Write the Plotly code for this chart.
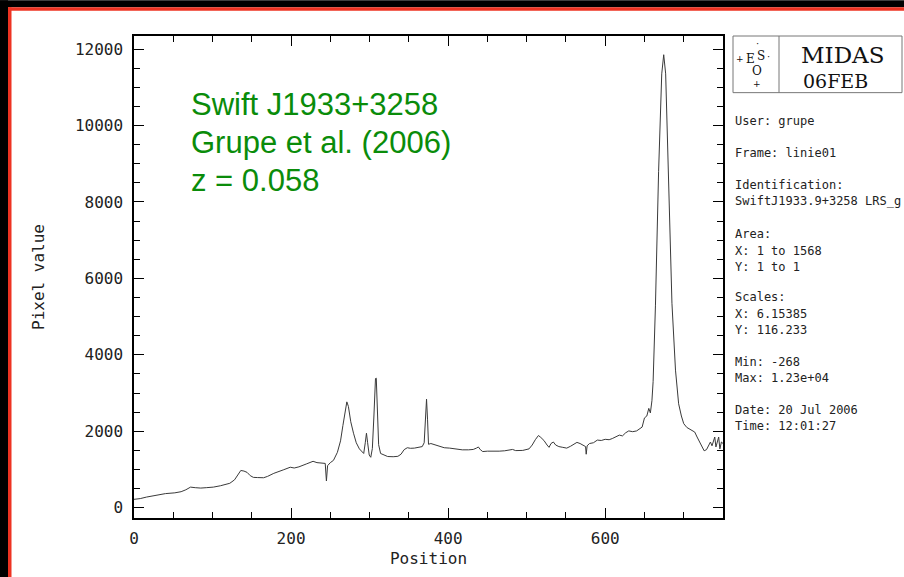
import plotly.graph_objects as go

# ---- data ----
position = [0, 8, 16, 28, 40, 52, 60, 66, 72, 78, 85, 92, 101, 110, 122, 128, 132, 136, 140, 144, 148, 152,
            157, 165, 170, 178, 190, 199, 204, 210, 220, 228, 233, 240, 243.5, 245, 246.5, 250, 254,
            259, 263, 266, 268.5, 271, 273, 276, 279.5, 283, 287, 291, 292.5, 294.5, 296, 297.5, 299.5, 301.5,
            303.5, 305.5, 307.5, 308.5, 310, 311.5, 314, 318, 323, 330, 336, 340, 344, 348, 352, 357, 362, 367,
            369.5, 371, 372.5, 373.8, 375, 378, 382, 388, 395, 402, 410, 418, 426, 432, 436, 438.5, 441, 444,
            450, 458, 465, 472, 478, 482, 486, 495, 503, 507, 511, 515, 518, 522, 526, 528.5, 531, 534, 537,
            541, 546, 551, 556, 560, 564, 568, 573, 575, 575.8, 577, 580, 585, 590, 595, 600, 605, 609, 614,
            618, 622, 626, 630, 635, 640, 644, 647, 650, 653, 655.5, 657.5, 659.5, 661, 664, 668, 672, 674.5,
            677, 681, 685, 689.5, 693.5, 697, 700, 704, 707, 711, 714, 717, 720, 723, 726, 729, 732, 734, 736,
            738, 739.5, 741, 743, 744.5, 746, 748, 750]
pixel_value = [220, 240, 280, 330, 370, 390, 420, 470, 540, 525, 515, 525, 540, 575, 640, 730, 850, 975, 960, 925, 840, 795,
               790, 785, 820, 900, 990, 1060, 1040, 1070, 1150, 1215, 1180, 1170, 1160, 700, 1100, 1180, 1240,
               1450, 1750, 2150, 2500, 2770, 2650, 2250, 1950, 1700, 1540, 1440, 1420, 1700, 1950, 1700, 1380, 1320,
               1550, 2400, 3380, 3390, 2400, 1650, 1420, 1380, 1340, 1335, 1345, 1400, 1520, 1570, 1555, 1560, 1580, 1600,
               1700, 2300, 2840, 2300, 1660, 1680, 1650, 1620, 1570, 1560, 1530, 1515, 1515, 1525, 1560, 1590, 1520, 1470,
               1480, 1475, 1480, 1490, 1515, 1525, 1495, 1500, 1540, 1640, 1780, 1890, 1840, 1760, 1640, 1580, 1680, 1720, 1640,
               1600, 1580, 1560, 1610, 1660, 1710, 1680, 1630, 1600, 1400, 1620, 1680, 1700, 1770, 1760, 1790, 1780, 1810, 1860,
               1900, 1880, 1960, 2010, 1990, 2010, 2080, 2110, 2350, 2400, 2600, 2480, 2800, 3300, 5300, 8800, 11350, 11850,
               11350, 7950, 5350, 3600, 2720, 2400, 2200, 2100, 2060, 2000, 1980, 1850, 1740, 1600, 1490, 1520, 1620, 1720, 1620,
               1780, 1850, 1590, 1780, 1850, 1540, 1720, 1680]

x_range = [0, 750]
y_range = [-268, 12340]

title_lines = ["Swift J1933+3258", "Grupe et al. (2006)", "z = 0.058"]
info_lines = [
    ("User: grupe", 122), ("Frame: linie01", 154), ("Identification:", 186),
    ("SwiftJ1933.9+3258 LRS_g", 202), ("Area:", 235), ("X: 1 to 1568", 252),
    ("Y: 1 to 1", 268), ("Scales:", 299), ("X: 6.15385", 316), ("Y: 116.233", 332),
    ("Min: -268", 364), ("Max: 1.23e+04", 380), ("Date: 20 Jul 2006", 412),
    ("Time: 12:01:27", 428),
]

# ---- layout geometry ----
W, H = 904, 577
L, R, T, B = 134, 723, 36, 521
PW, PH = R - L, B - T


def fx(px):
    return (px - L) / PW


def fy(py):
    return 1 - (py - T) / PH


fig = go.Figure()
fig.add_trace(go.Scatter(x=position, y=pixel_value, mode="lines",
                         line=dict(color="#3a3a3a", width=1), showlegend=False, hoverinfo="skip"))

mono = "DejaVu Sans Mono"
axis_common = dict(
    showgrid=False, zeroline=False, showline=True, linecolor="black", linewidth=1.5,
    mirror="allticks", ticks="inside", ticklen=10, tickwidth=1.2, tickcolor="black",
    tickfont=dict(family=mono, size=16, color="#222"), tickformat="d",
)
fig.update_xaxes(range=x_range, dtick=200, tick0=0,
                 minor=dict(dtick=50, tick0=0, ticks="inside", ticklen=6, tickcolor="black", tickwidth=1.2),
                 title=dict(text="Position", font=dict(family=mono, size=16, color="#222"), standoff=6),
                 ticklabelstandoff=5, **axis_common)
fig.update_yaxes(range=y_range, dtick=2000, tick0=0,
                 minor=dict(dtick=500, tick0=0, ticks="inside", ticklen=6, tickcolor="black", tickwidth=1.2),
                 title=dict(text="Pixel value", font=dict(family=mono, size=16, color="#222"), standoff=26),
                 ticklabelstandoff=6, **axis_common)

shapes = []
# white panel, black outer background and red frame
shapes.append(dict(type="rect", xref="paper", yref="paper", x0=fx(0), x1=fx(W + 20), y0=fy(0), y1=fy(H + 20),
                   fillcolor="white", line_width=0, layer="below"))
shapes.append(dict(type="rect", xref="paper", yref="paper", x0=fx(0), x1=fx(W + 20), y0=fy(0), y1=fy(7),
                   fillcolor="black", line_width=0, layer="below"))
shapes.append(dict(type="rect", xref="paper", yref="paper", x0=fx(0), x1=fx(8), y0=fy(0), y1=fy(H + 20),
                   fillcolor="black", line_width=0, layer="below"))
shapes.append(dict(type="rect", xref="paper", yref="paper", x0=fx(8), x1=fx(W + 20), y0=fy(7), y1=fy(10.5),
                   fillcolor="#ee3322", line_width=0, layer="below"))
shapes.append(dict(type="rect", xref="paper", yref="paper", x0=fx(8), x1=fx(11.5), y0=fy(7), y1=fy(H + 20),
                   fillcolor="#ee3322", line_width=0, layer="below"))
# MIDAS box
shapes.append(dict(type="rect", xref="paper", yref="paper", x0=fx(733), x1=fx(902), y0=fy(93), y1=fy(36),
                   line=dict(color="#777", width=1)))
shapes.append(dict(type="line", xref="paper", yref="paper", x0=fx(779), x1=fx(779), y0=fy(93), y1=fy(36),
                   line=dict(color="#777", width=1)))

ann = []
for i, line in enumerate(title_lines):
    ann.append(dict(xref="paper", yref="paper", x=fx(189), y=fy(105 + 38 * i), xanchor="left", yanchor="middle",
                    text=line, showarrow=False, align="left",
                    font=dict(family="Liberation Sans", size=31, color="#0a8c0a")))
ann.append(dict(xref="paper", yref="paper", x=fx(842), y=fy(55), xanchor="center", yanchor="middle",
                text="MIDAS", showarrow=False, font=dict(family="DejaVu Serif", size=23, color="#111")))
ann.append(dict(xref="paper", yref="paper", x=fx(835), y=fy(81), xanchor="center", yanchor="middle",
                text="06FEB", showarrow=False, font=dict(family="DejaVu Serif", size=19, color="#111")))
# ESO logo
for txt, x, y, s in [("E", 750, 59, 12), ("S", 761, 56, 12), ("O", 757, 71, 12), ("+", 740, 59, 9),
                     ("·", 768, 57, 10), ("+", 757, 84, 9), ("·", 757, 44, 10)]:
    ann.append(dict(xref="paper", yref="paper", x=fx(x), y=fy(y), xanchor="center", yanchor="middle",
                    text=txt, showarrow=False, font=dict(family="DejaVu Serif", size=s, color="#111")))
for txt, y in info_lines:
    ann.append(dict(xref="paper", yref="paper", x=fx(733), y=fy(y), xanchor="left", yanchor="middle",
                    text=txt, showarrow=False,
                    font=dict(family=mono, size=12, color="#222")))

fig.update_layout(width=W, height=H, margin=dict(l=L, r=W - R, t=T, b=H - B),
                  paper_bgcolor="white", plot_bgcolor="white", shapes=shapes, annotations=ann,
                  showlegend=False)

fig.write_html("out.html",
               post_script="document.body.style.margin='0';document.body.style.background='white';"
                           "document.documentElement.style.background='white';")
